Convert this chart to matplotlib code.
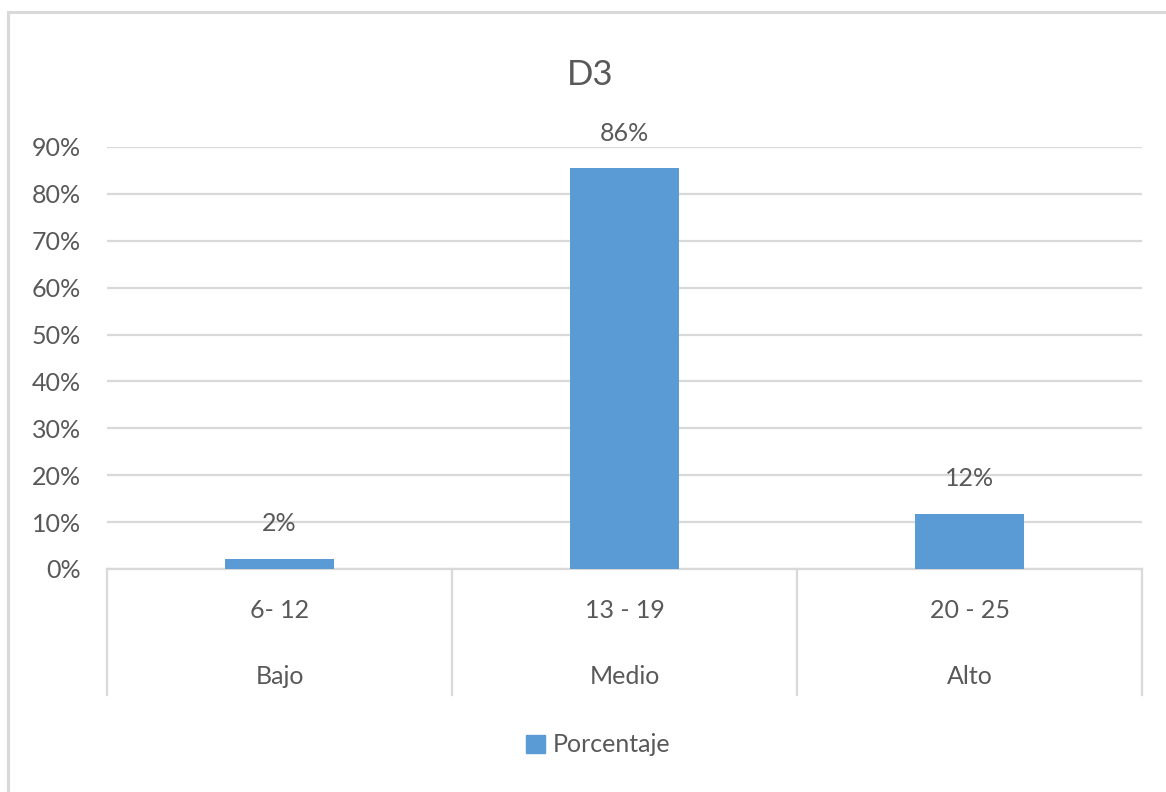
import matplotlib
matplotlib.use("Agg")
import matplotlib.pyplot as plt
from matplotlib.lines import Line2D
from matplotlib.patches import Patch
import matplotlib.transforms as mtransforms

categories_range = ["6- 12", "13 - 19", "20 - 25"]
categories_level = ["Bajo", "Medio", "Alto"]
values = [0.022, 0.855, 0.118]
value_labels = ["2%", "86%", "12%"]
y_ticks = [0.0, 0.1, 0.2, 0.3, 0.4, 0.5, 0.6, 0.7, 0.8, 0.9]
series_name = "Porcentaje"
title = "D3"

BAR = "#5B9BD5"
GRID = "#D9D9D9"
TXT = "#595959"
plt.rcParams['font.family'] = ['Lato', 'DejaVu Sans']
FS = 18

W, H = 1166, 792
fig = plt.figure(figsize=(W / 100, H / 100), dpi=100)
fig.patch.set_facecolor("white")

# outer chart border (top and left visible)
fig.add_artist(Line2D([8 / W, 1.0], [1 - 12 / H, 1 - 12 / H], color=GRID, lw=2.2, transform=fig.transFigure))
fig.add_artist(Line2D([8 / W, 8 / W], [1 - 12 / H, 0.0], color=GRID, lw=2.2, transform=fig.transFigure))

left, right = 107 / W, 1142 / W
bottom, top = 1 - 569 / H, 1 - 147 / H
ax = fig.add_axes([left, bottom, right - left, top - bottom])
x = list(range(len(values)))
ax.bar(x, values, width=0.316, color=BAR, zorder=3)
ax.set_xlim(-0.5, len(values) - 0.5)
ax.set_ylim(0, 0.9)
ax.set_yticks(y_ticks)
ax.set_yticklabels([f"{int(round(t * 100))}%" for t in y_ticks], fontsize=FS, color=TXT)
ax.tick_params(axis='y', length=0, pad=19)
ax.set_xticks([])
for s in ["top", "right", "left"]:
    ax.spines[s].set_visible(False)
ax.spines["bottom"].set_color(GRID)
ax.spines["bottom"].set_linewidth(1.6)
ax.grid(axis='y', color=GRID, lw=1.6, zorder=0)
ax.set_axisbelow(True)

trans = mtransforms.blended_transform_factory(ax.transData, ax.transAxes)
sep_low = -(695 - 569) / (569 - 147)
for b in [-0.5 + i for i in range(len(values) + 1)]:
    ax.add_line(Line2D([b, b], [0, sep_low], color=GRID, lw=1.6, transform=trans, clip_on=False))

for i in x:
    ax.text(i, -(611 - 569) / 422, categories_range[i], transform=trans, ha='center', va='center', fontsize=FS, color=TXT)
    ax.text(i, -(677 - 569) / 422, categories_level[i], transform=trans, ha='center', va='center', fontsize=FS, color=TXT)
    ax.annotate(value_labels[i], (i, values[i]), xytext=(0, 25), textcoords='offset points',
                ha='center', va='center', fontsize=FS, color=TXT)

fig.text(590 / W, 1 - 75 / H, title, ha='center', va='center', fontsize=25, color=TXT)

fig.legend(handles=[Patch(color=BAR, label=series_name)], loc='center', bbox_to_anchor=(598 / W, 1 - 745 / H),
           frameon=False, fontsize=FS, labelcolor=TXT, handlelength=0.75, handleheight=0.75, handletextpad=0.3)

fig.savefig("out.png", dpi=100, facecolor="white")
